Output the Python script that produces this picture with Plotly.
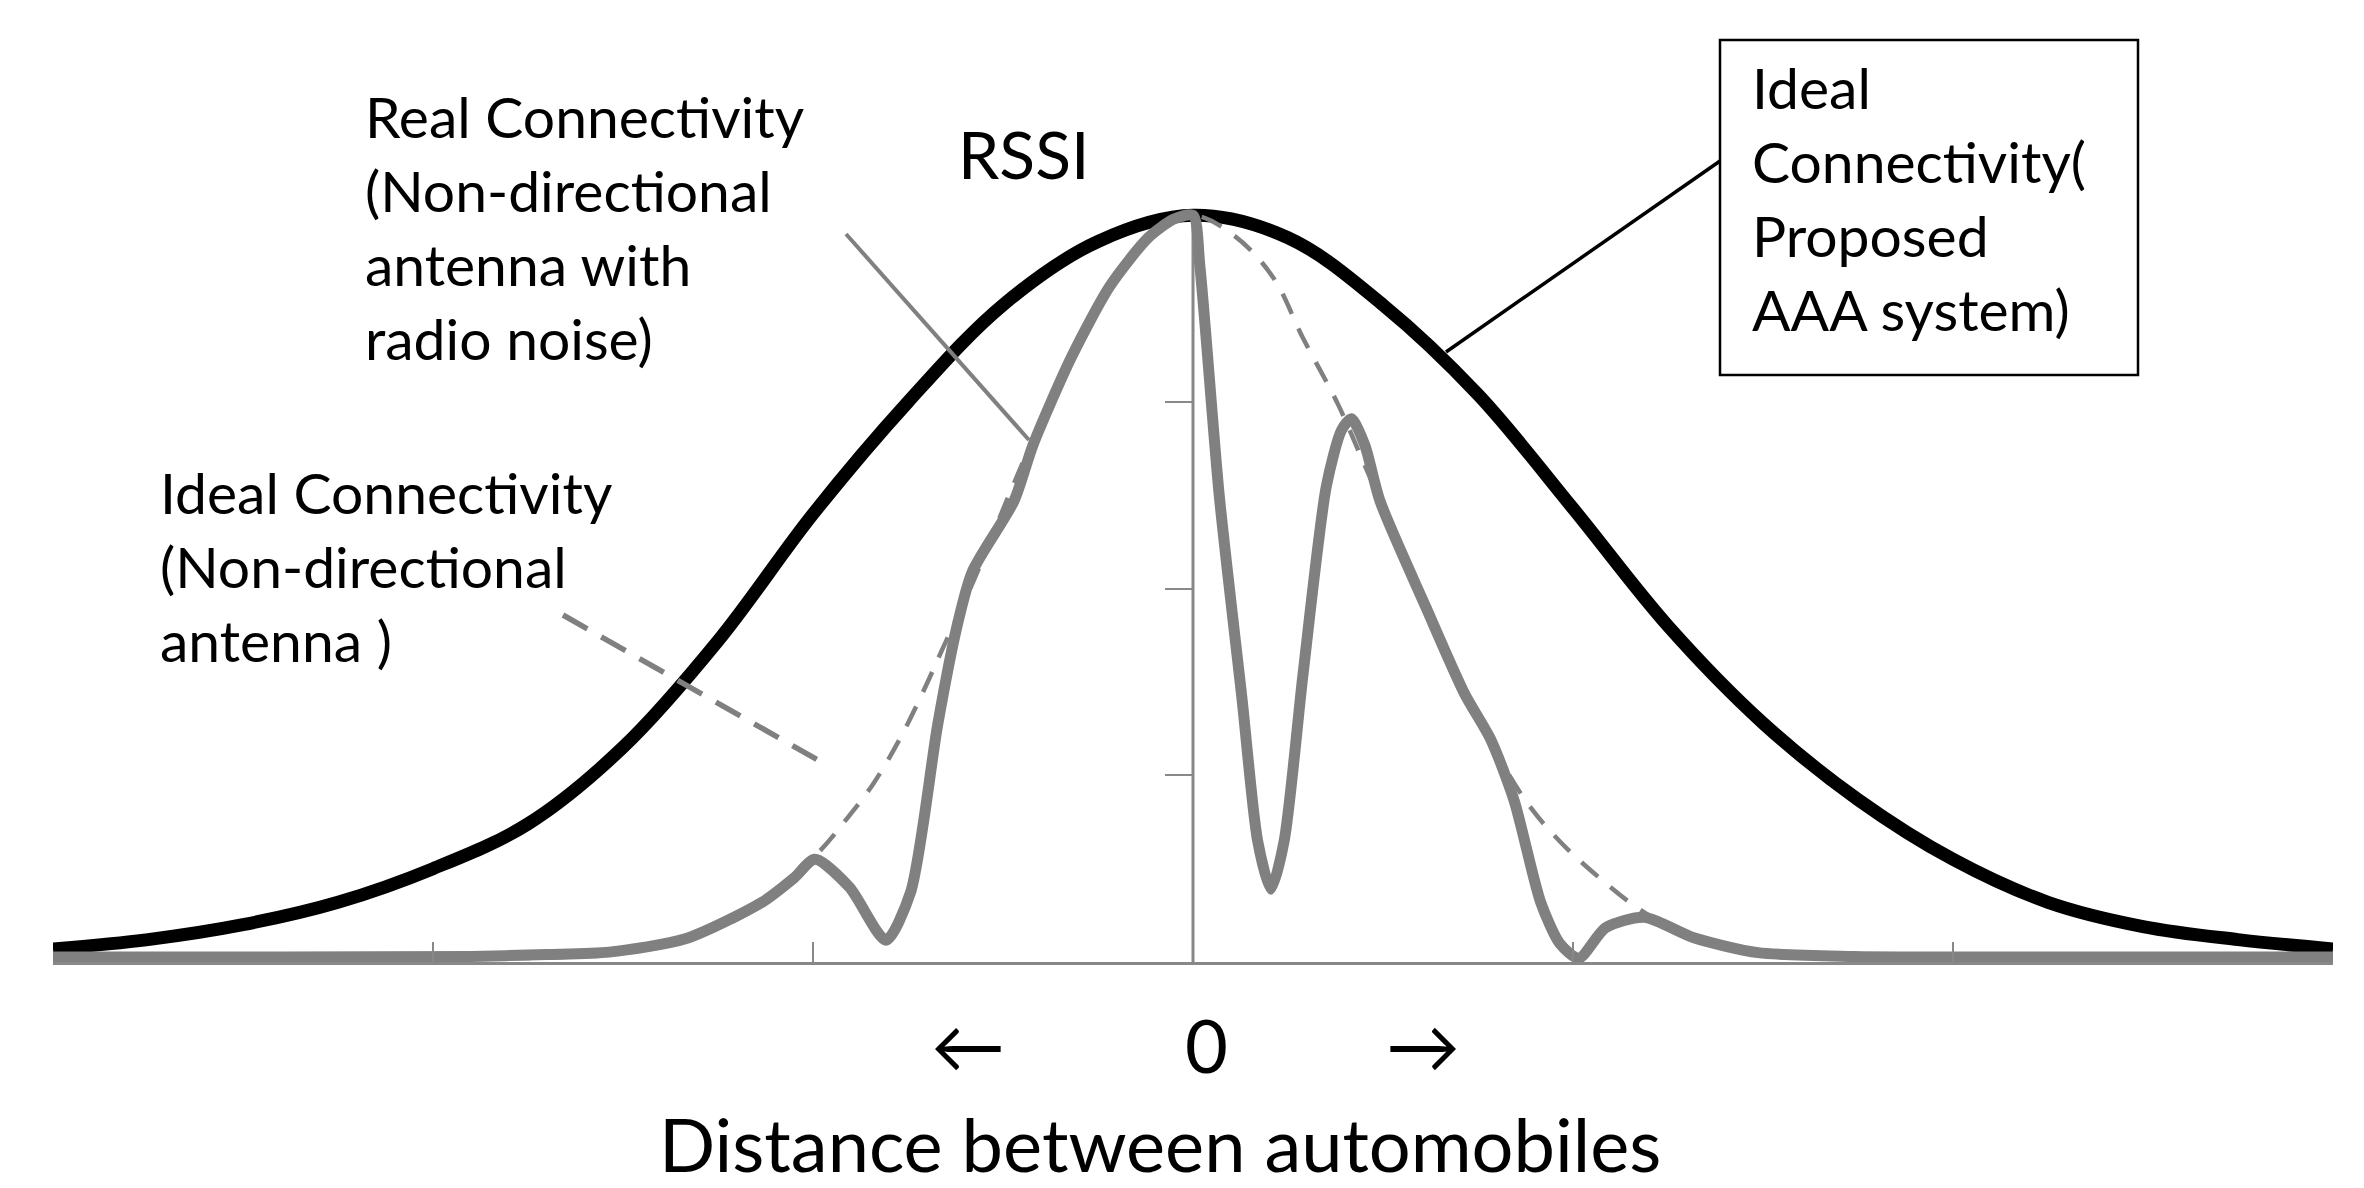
import plotly.graph_objects as go

# Ideal connectivity (proposed AAA system) - thick black bell
ideal_aaa_x = [-3.0, -2.75, -2.5, -2.25, -2.0, -1.75, -1.5, -1.25, -1.0, -0.75, -0.5, -0.25,
               0.0, 0.25, 0.5, 0.75, 1.0, 1.25, 1.5, 1.75, 2.0, 2.25, 2.5, 2.75, 3.0]
ideal_aaa_y = [0.07, 0.12, 0.20, 0.32, 0.50, 0.74, 1.15, 1.72, 2.40, 3.0, 3.52, 3.86,
               4.0, 3.88, 3.52, 3.04, 2.43, 1.80, 1.28, 0.87, 0.55, 0.32, 0.19, 0.12, 0.07]

# Ideal connectivity (non-directional antenna) - thin dashed bell
ideal_nd_x = [-1.8, -1.5, -1.3, -1.134, -0.984, -0.914, -0.843, -0.773, -0.712, -0.652, -0.58,
              -0.47, -0.32, -0.2, -0.1, 0.0, 0.109, 0.21, 0.29, 0.381, 0.45, 0.55, 0.65, 0.75,
              0.875, 0.965, 1.066, 1.167, 1.3, 1.5, 1.8]
ideal_nd_y = [0.02, 0.05, 0.14, 0.31, 0.59, 0.76, 0.95, 1.19, 1.44, 1.71, 2.03,
              2.57, 3.26, 3.69, 3.92, 4.0, 3.89, 3.67, 3.34, 2.99, 2.67, 2.2, 1.71, 1.30,
              0.865, 0.647, 0.457, 0.294, 0.14, 0.05, 0.02]

# Real connectivity (non-directional antenna with radio noise) - gray
real_x = [-3.0, -2.4, -1.9, -1.7, -1.537, -1.336, -1.134, -1.05, -0.995, -0.904, -0.808,
          -0.743, -0.672, -0.622, -0.581, -0.471, -0.421, -0.32, -0.219, -0.118, -0.05, 0.0,
          0.018, 0.069, 0.129, 0.17, 0.205, 0.24, 0.29, 0.351, 0.391, 0.417, 0.452, 0.492,
          0.613, 0.714, 0.784, 0.845, 0.915, 0.965, 1.015, 1.086, 1.187, 1.318, 1.487, 1.74,
          2.2, 3.0]
real_y = [0.027, 0.027, 0.03, 0.04, 0.053, 0.124, 0.32, 0.45, 0.55, 0.40, 0.117,
          0.375, 1.27, 1.79, 2.09, 2.47, 2.77, 3.24, 3.62, 3.88, 3.98, 4.0,
          3.73, 2.5, 1.41, 0.65, 0.39, 0.65, 1.55, 2.55, 2.85, 2.91, 2.77, 2.47,
          1.90, 1.44, 1.19, 0.865, 0.32, 0.10, 0.02, 0.184, 0.24, 0.13, 0.05, 0.03,
          0.027, 0.027]

x_ticks = [-3, -2, -1, 1, 2, 3]
y_ticks = [1, 2, 3]

GRAY = '#808080'
AXIS_GRAY = '#888888'
FONT = 'Lato, Open Sans, sans-serif'

# plot area in pixels
L, R, T, B = 45, 39, 170, 234
W, H = 2364, 1188
PW, PH = W - L - R, H - T - B


def px(x, y):
    """pixel position on the page -> paper coordinates"""
    return (x - L) / PW, (H - B - y) / PH


fig = go.Figure()

fig.add_trace(go.Scatter(x=ideal_aaa_x, y=ideal_aaa_y, mode='lines',
                         line=dict(color='black', width=13, shape='spline', smoothing=1)))
fig.add_trace(go.Scatter(x=ideal_nd_x, y=ideal_nd_y, mode='lines',
                         line=dict(color=GRAY, width=4.5, dash='22px,16px', shape='spline', smoothing=1)))
fig.add_trace(go.Scatter(x=real_x, y=real_y, mode='lines',
                         line=dict(color=GRAY, width=11, shape='spline', smoothing=0.7)))

shapes = []
# vertical axis through 0
shapes.append(dict(type='line', xref='x', yref='y', x0=0, x1=0, y0=0, y1=4,
                   line=dict(color=AXIS_GRAY, width=3), layer='below'))

# callout lines
x0, y0 = px(1712, 153)
x1, y1 = px(1438, 344)
shapes.append(dict(type='line', xref='paper', yref='paper', x0=x0, y0=y0, x1=x1, y1=y1,
                   line=dict(color='black', width=3.5)))
x0, y0 = px(838, 226)
x1, y1 = px(1021, 432)
shapes.append(dict(type='line', xref='paper', yref='paper', x0=x0, y0=y0, x1=x1, y1=y1,
                   line=dict(color=GRAY, width=4)))
x0, y0 = px(555, 607)
x1, y1 = px(822, 759)
shapes.append(dict(type='line', xref='paper', yref='paper', x0=x0, y0=y0, x1=x1, y1=y1,
                   line=dict(color=GRAY, width=5.5, dash='28px,16px')))
# box round the proposed system label
x0, y0 = px(1712, 32)
x1, y1 = px(2130, 367)
shapes.append(dict(type='rect', xref='paper', yref='paper', x0=x0, y0=y0, x1=x1, y1=y1,
                   line=dict(color='black', width=2.5), fillcolor='rgba(0,0,0,0)'))


def label(text, x, y, size, xanchor='left'):
    ax, ay = px(x, y)
    return dict(text=text, xref='paper', yref='paper', x=ax, y=ay, xanchor=xanchor,
                yanchor='top', align='left', showarrow=False,
                font=dict(family=FONT, size=size, color='black'))


annotations = [
    label('Real Connectivity<br>(Non-directional<br>antenna with<br>radio noise)', 355, 72, 57),
    label('RSSI', 948, 104, 66),
    label('Ideal Connectivity<br>(Non-directional<br>antenna )', 150, 448, 57),
    label('Ideal<br>Connectivity(<br>Proposed<br>AAA system)', 1742, 43, 57),
    label('\u2190', 960, 990, 74, xanchor='center'),
    label('0', 1198, 990, 74, xanchor='center'),
    label('\u2192', 1415, 990, 74, xanchor='center'),
    label('Distance between automobiles', 1152, 1089, 74, xanchor='center'),
]

fig.update_layout(
    width=W, height=H,
    margin=dict(l=L, r=R, t=T, b=B),
    paper_bgcolor='white', plot_bgcolor='white',
    showlegend=False,
    shapes=shapes,
    annotations=annotations,
    xaxis=dict(range=[-3, 3], showgrid=False, zeroline=False, showline=True,
               linecolor=AXIS_GRAY, linewidth=3, ticks='inside', ticklen=20, tickwidth=2,
               tickcolor=AXIS_GRAY, tickvals=x_ticks, showticklabels=False),
    yaxis=dict(range=[0, 4.2], showgrid=False, zeroline=False, showline=False,
               anchor='free', position=0.5, ticks='outside', ticklen=28, tickwidth=2,
               tickcolor=AXIS_GRAY, tickvals=y_ticks, showticklabels=False),
)

fig.write_html("out.html", config={'displayModeBar': False})
